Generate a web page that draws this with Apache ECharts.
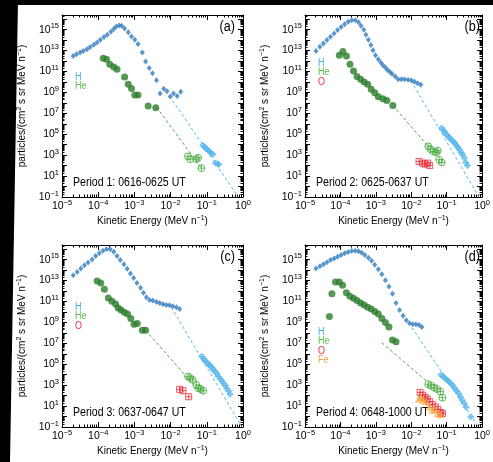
<!DOCTYPE html>
<html><head><meta charset="utf-8">
<script src="https://cdn.jsdelivr.net/npm/echarts@6/dist/echarts.min.js"></script>
<style>html,body{margin:0;padding:0;background:#fff}#c{width:493px;height:462px}</style>
</head><body><div id="c"></div>
<script>
// All values are log10(kinetic energy / MeV n^-1) and log10(particles/(cm^2 s sr MeV n^-1))
const xTickExps = [-5, -4, -3, -2, -1, 0];
const yTickExps = [-1, 1, 3, 5, 7, 9, 11, 13, 15];
const panelLetters = ['(a)', '(b)', '(c)', '(d)'];
const periodLabels = ['Period 1: 0616-0625 UT', 'Period 2: 0625-0637 UT', 'Period 3: 0637-0647 UT', 'Period 4: 0648-1000 UT'];
const legendSpecies = [['H', 'He'], ['H', 'He', 'O'], ['H', 'He', 'O'], ['H', 'He', 'O', 'Fe']];

// Panel (a)
const aH = [[-4.69,12.49],[-4.60,12.65],[-4.50,12.81],[-4.41,12.97],[-4.31,13.13],[-4.22,13.33],[-4.12,13.55],[-4.03,13.78],[-3.94,14.03],[-3.84,14.29],[-3.75,14.51],[-3.65,14.80],[-3.57,15.06],[-3.50,15.30],[-3.42,15.40],[-3.35,15.38],[-3.27,15.12],[-3.17,14.74],[-3.08,14.35],[-2.99,14.03],[-2.90,13.62],[-2.78,12.81],[-2.69,11.95],[-2.59,11.34],[-2.50,10.83],[-2.39,10.15],[-2.29,8.90],[-2.19,9.35],[-2.10,9.10],[-2.01,8.62],[-1.92,8.90],[-1.82,8.65],[-1.72,9.06]];
const aHhigh = [[-1.11,3.94],[-1.06,3.81],[-1.02,3.62],[-0.97,3.49],[-0.93,3.36],[-0.88,3.20],[-0.83,3.07],[-0.76,2.24],[-0.70,2.17],[-0.67,2.11]];
const aHfit = [[-2.03,8.65],[-0.13,-1]];
const aHe = [[-3.86,12.27],[-3.77,12.17],[-3.68,11.69],[-3.57,11.44],[-3.48,11.21],[-3.27,10.47],[-3.17,9.77],[-3.08,9.38],[-2.99,8.74],[-2.90,8.74],[-2.62,7.69],[-2.41,7.53]];
const aHeHigh = [[-1.52,2.88],[-1.46,2.62],[-1.29,2.62],[-1.24,2.75],[-1.15,1.76]];
const aHeFit = [[-2.39,7.60],[-1.15,1.76]];

// Panel (b)
const bH = [[-4.69,12.97],[-4.58,13.36],[-4.48,13.68],[-4.38,14.0],[-4.28,14.32],[-4.18,14.64],[-4.08,14.96],[-3.98,15.25],[-3.88,15.51],[-3.78,15.76],[-3.68,15.89],[-3.58,15.89],[-3.49,15.70],[-3.42,15.38],[-3.34,14.99],[-3.28,14.51],[-3.21,14.03],[-3.14,13.52],[-3.08,13.04],[-3.01,12.56],[-2.93,12.17],[-2.86,11.85],[-2.80,11.60],[-2.73,11.37],[-2.67,11.15],[-2.60,10.96],[-2.54,10.76],[-2.45,10.51],[-2.37,10.25],[-2.28,10.25],[-2.19,10.25],[-2.09,10.22],[-2.00,10.15],[-1.91,10.03],[-1.82,9.87],[-1.73,9.74]];
const bHhigh = [[-1.14,5.60],[-1.09,5.38],[-1.05,5.19],[-1.00,4.96],[-0.96,4.80],[-0.91,4.64],[-0.87,4.48],[-0.82,4.32],[-0.77,4.16],[-0.73,3.94],[-0.68,3.74],[-0.64,3.52],[-0.59,3.26],[-0.55,3.04],[-0.50,2.72],[-0.46,2.30],[-0.41,2.01]];
const bHfit = [[-2.00,10.09],[-0.09,-1]];
const bHe = [[-4.03,12.56],[-3.93,12.91],[-3.83,12.49],[-3.73,11.69],[-3.63,11.05],[-3.53,10.51],[-3.43,10.25],[-3.33,9.99],[-3.23,9.77],[-3.13,9.29],[-3.03,8.97],[-2.93,8.58],[-2.80,8.39],[-2.69,8.23],[-2.52,7.75]];
const bHeHigh = [[-1.52,3.84],[-1.46,3.58],[-1.38,3.36],[-1.30,3.26],[-1.25,3.42],[-1.21,2.56],[-1.14,2.30]];
const bHeFit = [[-2.52,7.75],[-1.52,3.84]];
const bO = [[-1.78,2.40],[-1.68,2.24],[-1.61,2.14],[-1.54,2.24],[-1.48,2.01]];

// Panel (c)
const cH = [[-4.69,13.50],[-4.58,13.83],[-4.48,14.15],[-4.38,14.47],[-4.28,14.73],[-4.17,15.02],[-4.07,15.34],[-3.97,15.60],[-3.87,15.86],[-3.77,15.99],[-3.67,16.00],[-3.57,15.76],[-3.48,15.34],[-3.39,14.96],[-3.29,14.57],[-3.20,14.12],[-3.11,13.67],[-3.02,13.25],[-2.93,12.76],[-2.83,12.31],[-2.75,11.83],[-2.67,11.41],[-2.58,11.15],[-2.49,11.09],[-2.39,10.96],[-2.30,10.86],[-2.21,10.73],[-2.12,10.67],[-2.03,10.63],[-1.94,10.54],[-1.84,10.44],[-1.75,10.28]];
const cHhigh = [[-1.14,5.76],[-1.09,5.54],[-1.05,5.34],[-1.00,5.18],[-0.95,5.02],[-0.91,4.86],[-0.86,4.70],[-0.82,4.47],[-0.77,4.31],[-0.72,4.09],[-0.68,3.83],[-0.63,3.60],[-0.58,3.41],[-0.54,3.18],[-0.49,2.96],[-0.45,2.70],[-0.40,2.44],[-0.36,2.12]];
const cHfit = [[-1.98,10.44],[-0.03,-1]];
const cHe = [[-4.03,12.96],[-3.93,12.76],[-3.83,12.18],[-3.72,11.34],[-3.62,11.02],[-3.52,10.76],[-3.45,10.38],[-3.37,10.18],[-3.28,9.96],[-3.19,9.80],[-3.10,9.38],[-3.01,8.83],[-2.92,8.89],[-2.78,8.25],[-2.69,8.25]];
const cHeHigh = [[-1.52,3.83],[-1.46,3.67],[-1.39,3.50],[-1.29,3.02],[-1.23,2.70],[-1.17,2.63],[-1.10,2.47]];
const cHeFit = [[-2.69,8.25],[-1.57,3.83]];
const cO = [[-1.75,2.60],[-1.66,2.47],[-1.50,1.89]];

// Panel (d)
const dH = [[-4.69,14.15],[-4.58,14.38],[-4.48,14.57],[-4.38,14.76],[-4.28,14.96],[-4.18,15.12],[-4.08,15.28],[-3.98,15.44],[-3.88,15.60],[-3.78,15.73],[-3.68,15.83],[-3.58,15.86],[-3.49,15.80],[-3.40,15.67],[-3.31,15.44],[-3.21,15.18],[-3.12,14.89],[-3.03,14.50],[-2.93,14.09],[-2.83,13.60],[-2.73,13.02],[-2.63,12.44],[-2.53,11.73],[-2.43,10.86],[-2.33,10.18],[-2.23,9.63],[-2.14,9.21],[-2.05,8.92],[-1.96,8.83],[-1.87,8.83],[-1.78,8.76],[-1.70,8.57]];
const dHhigh = [[-1.16,3.99],[-1.10,3.83],[-1.05,3.67],[-0.99,3.50],[-0.94,3.34],[-0.88,3.15],[-0.83,2.96],[-0.77,2.70],[-0.72,2.47],[-0.66,2.21],[-0.61,1.89],[-0.56,1.57],[-0.50,1.25],[-0.45,0.89],[-0.32,-0.04]];
const dHfit = [[-1.98,8.50],[-0.10,-1]];
const dHe = [[-4.31,9.57],[-4.24,11.73],[-4.14,12.86],[-4.03,12.86],[-3.94,12.54],[-3.83,11.83],[-3.73,11.50],[-3.63,11.31],[-3.53,11.09],[-3.43,10.86],[-3.33,10.67],[-3.23,10.44],[-3.13,10.28],[-3.03,10.05],[-2.93,9.80],[-2.83,9.38],[-2.73,8.99],[-2.63,8.57],[-2.53,7.31],[-2.43,7.15]];
const dHeHigh = [[-1.52,3.09],[-1.44,2.96],[-1.35,2.76],[-1.27,2.63],[-1.18,2.38],[-1.12,1.80]];
const dHeFit = [[-2.83,7.05],[-1.55,3.34]];
const dO = [[-1.75,2.31],[-1.68,2.05],[-1.61,1.85],[-1.55,1.67],[-1.48,1.41],[-1.41,1.15],[-1.32,0.92],[-1.25,0.70],[-1.17,0.38],[-1.12,0.28]];
const dFe = [[-1.79,1.67],[-1.73,1.80],[-1.67,1.57],[-1.59,1.41],[-1.48,0.92],[-1.41,0.60],[-1.34,0.70],[-1.25,0.28],[-1.18,0.18]];

const panels = [
  {H: aH, Hh: aHhigh, Hf: aHfit, He: aHe, Heh: aHeHigh, Hef: aHeFit},
  {H: bH, Hh: bHhigh, Hf: bHfit, He: bHe, Heh: bHeHigh, Hef: bHeFit, O: bO},
  {H: cH, Hh: cHhigh, Hf: cHfit, He: cHe, Heh: cHeHigh, Hef: cHeFit, O: cO},
  {H: dH, Hh: dHhigh, Hf: dHfit, He: dHe, Heh: dHeHigh, Hef: dHeFit, O: dO, Fe: dFe}
];

// ---------- layout / style ----------
const FONT = "'Liberation Sans',Arial,sans-serif";
const grids = [
  {left: 62, top: 15, width: 181, height: 182},
  {left: 305, top: 15, width: 183, height: 182},
  {left: 62, top: 245, width: 181, height: 182},
  {left: 305, top: 245, width: 183, height: 182}
];
const X_MIN = -5, X_MAX = 0, Y_MIN = -1, Y_MAX = 16.4;
const C = {
  H: '#2f7cbf', Hh: '#56b6ec', He: '#2a7d2a', Heh: '#4aab3f', O: '#e8303a', Fe: '#f2a33a',
  legH: '#45aef0', legHe: '#5cbf4f', legO: '#e8303a', legFe: '#f2a33a'
};
const legendColors = {H: C.legH, He: C.legHe, O: C.legO, Fe: C.legFe};
const legendY0 = [77, 63, 307, 332];

const xMajor = []; for (let n = X_MIN; n <= X_MAX; n++) xMajor.push(n);
const xMinor = []; for (let n = X_MIN; n < X_MAX; n++) for (let k = 2; k <= 9; k++) xMinor.push(n + Math.log10(k));
const yMajor = []; for (let n = Y_MIN; n <= Math.floor(Y_MAX); n++) yMajor.push(n);
const yMinor = []; for (let n = Y_MIN; n < Y_MAX; n++) for (let k = 2; k <= 9; k++) { const v = n + Math.log10(k); if (v < Y_MAX) yMinor.push(v); }

const fmtExp = v => { const e = Math.round(v); return '{b|10}{s|' + (e < 0 ? '\u2212' + (-e) : e) + '}'; };
const labelRich = {
  b: {fontSize: 10.5, fontFamily: FONT, color: '#000'},
  s: {fontSize: 7.5, fontFamily: FONT, color: '#000', padding: [0, 0, 7, 0]}
};
const nameRich = {
  n: {fontSize: 10, fontFamily: FONT, color: '#000'},
  s: {fontSize: 7, fontFamily: FONT, color: '#000', padding: [0, 0, 6, 0]}
};
const line = {show: true, onZero: false, lineStyle: {color: '#000', width: 1}};
const noLine = {show: false, onZero: false};

const xAxes = [], yAxes = [];
grids.forEach((g, i) => {
  const base = {gridIndex: i, type: 'value', min: X_MIN, max: X_MAX, splitLine: {show: false}};
  xAxes.push(Object.assign({}, base, {
    position: 'bottom', axisLine: line,
    axisTick: {inside: true, length: 5, customValues: xMajor, lineStyle: {color: '#000'}},
    axisLabel: {customValues: xTickExps, formatter: fmtExp, rich: labelRich, margin: 2, hideOverlap: false},
    name: '{n|Kinetic Energy (MeV n}{s|\u22121}{n|)}', nameLocation: 'middle', nameGap: 18,
    nameTextStyle: {rich: nameRich}
  }));
  xAxes.push(Object.assign({}, base, {
    position: 'bottom', axisLine: noLine,
    axisTick: {inside: true, length: 2.5, customValues: xMinor, lineStyle: {color: '#000'}},
    axisLabel: {show: false}
  }));
  xAxes.push(Object.assign({}, base, {
    position: 'top', axisLine: line,
    axisTick: {inside: true, length: 5, customValues: xMajor, lineStyle: {color: '#000'}},
    axisLabel: {show: false}
  }));
  xAxes.push(Object.assign({}, base, {
    position: 'top', axisLine: noLine,
    axisTick: {inside: true, length: 2.5, customValues: xMinor, lineStyle: {color: '#000'}},
    axisLabel: {show: false}
  }));
  const ybase = {gridIndex: i, type: 'value', min: Y_MIN, max: Y_MAX, splitLine: {show: false}};
  yAxes.push(Object.assign({}, ybase, {
    position: 'left', axisLine: line,
    axisTick: {inside: true, length: 5, customValues: yMajor, lineStyle: {color: '#000'}},
    axisLabel: {customValues: yTickExps, formatter: fmtExp, rich: labelRich, margin: 3, hideOverlap: false},
    name: '{n|particles/(cm}{s|2}{n| s sr MeV n}{s|\u22121}{n|)}', nameLocation: 'middle', nameGap: 33,
    nameTextStyle: {rich: nameRich}
  }));
  yAxes.push(Object.assign({}, ybase, {
    position: 'left', axisLine: noLine,
    axisTick: {inside: true, length: 2.5, customValues: yMinor, lineStyle: {color: '#000'}},
    axisLabel: {show: false}
  }));
  yAxes.push(Object.assign({}, ybase, {
    position: 'right', axisLine: line,
    axisTick: {inside: true, length: 5, customValues: yMajor, lineStyle: {color: '#000'}},
    axisLabel: {show: false}
  }));
  yAxes.push(Object.assign({}, ybase, {
    position: 'right', axisLine: noLine,
    axisTick: {inside: true, length: 2.5, customValues: yMinor, lineStyle: {color: '#000'}},
    axisLabel: {show: false}
  }));
});

const SYM = {
  circPlus: 'path://M0,5 A5,5 0 1 1 10,5 A5,5 0 1 1 0,5 Z M5,0 L5,10 M0,5 L10,5',
  sqPlus: 'path://M0,0 L10,0 L10,10 L0,10 Z M5,0 L5,10 M0,5 L10,5',
  diaPlus: 'path://M5,0 L10,5 L5,10 L0,5 Z M5,0 L5,10 M0,5 L10,5',
  triPlus: 'path://M5,0 L10,9 L0,9 Z M5,0 L5,9 M2.5,6 L7.5,6'
};

const series = [];
panels.forEach((p, i) => {
  const ax = {xAxisIndex: 4 * i, yAxisIndex: 4 * i};
  const fit = (d, col) => series.push(Object.assign({type: 'line', data: d, symbol: 'none', z: 2,
    lineStyle: {type: [3, 2.5], width: 1, color: col}, silent: true}, ax));
  const sc = (d, o) => series.push(Object.assign({type: 'scatter', data: d, z: 3, silent: true}, ax, o));
  fit(p.Hf, C.Hh);
  fit(p.Hef, C.Heh);
  sc(p.H, {symbol: 'diamond', symbolSize: [5, 6], itemStyle: {color: C.H}});
  sc(p.Hh, {symbol: SYM.diaPlus, symbolSize: 6, itemStyle: {color: 'rgba(86,182,236,0.45)', borderColor: C.Hh, borderWidth: 1}});
  sc(p.He, {symbol: 'circle', symbolSize: 7, itemStyle: {color: C.He}});
  sc(p.Heh, {symbol: SYM.circPlus, symbolSize: 7, itemStyle: {color: 'rgba(0,0,0,0)', borderColor: C.Heh, borderWidth: 1}});
  if (p.O) sc(p.O, {symbol: SYM.sqPlus, symbolSize: 6, itemStyle: {color: 'rgba(0,0,0,0)', borderColor: C.O, borderWidth: 1}});
  if (p.Fe) sc(p.Fe, {symbol: SYM.triPlus, symbolSize: 6, itemStyle: {color: 'rgba(0,0,0,0)', borderColor: C.Fe, borderWidth: 1}});
});

const graphic = [
  {type: 'polygon', shape: {points: [[0, 0], [18, 0], [10, 462], [0, 462]]}, style: {fill: '#000'}, z: 100},
  {type: 'rect', shape: {x: 0, y: 0, width: 493, height: 5}, style: {fill: '#000'}, z: 100}
];
grids.forEach((g, i) => {
  const right = g.left + g.width;
  graphic.push({type: 'text', x: right - 8, y: g.top + 12, scaleX: 0.9, style: {text: panelLetters[i], fill: '#000',
    font: '14px ' + FONT, textAlign: 'right', textVerticalAlign: 'middle'}});
  graphic.push({type: 'text', x: g.left + 11, y: g.top + g.height - 14, scaleX: 0.88, style: {text: periodLabels[i], fill: '#000',
    font: '12px ' + FONT, textAlign: 'left', textVerticalAlign: 'middle'}});
  legendSpecies[i].forEach((sp, j) => {
    graphic.push({type: 'text', x: g.left + 13, y: legendY0[i] + j * 9.5, scaleX: 0.9, style: {text: sp, fill: legendColors[sp],
      font: '10px ' + FONT, textAlign: 'left', textVerticalAlign: 'middle'}});
  });
});

const chart = echarts.init(document.getElementById('c'), null, {renderer: 'canvas'});
chart.setOption({
  animation: false,
  backgroundColor: '#fff',
  textStyle: {fontFamily: FONT},
  grid: grids,
  xAxis: xAxes,
  yAxis: yAxes,
  series: series,
  graphic: graphic
});
</script></body></html>
